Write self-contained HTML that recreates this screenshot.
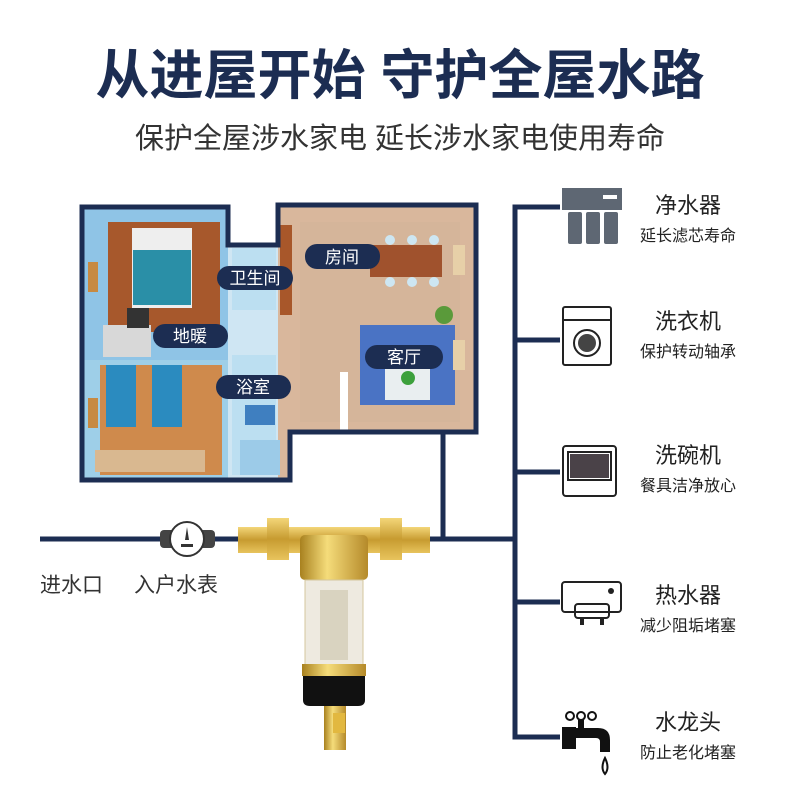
<!DOCTYPE html>
<html><head><meta charset="utf-8"><style>
body{margin:0;width:800px;height:800px;background:#fff;overflow:hidden;font-family:"Liberation Sans","Noto Sans CJK SC",sans-serif}
</style></head><body>
<svg width="800" height="800" viewBox="0 0 800 800" xmlns="http://www.w3.org/2000/svg" font-family="'Liberation Sans','Noto Sans CJK SC',sans-serif">
<text x="400" y="94" text-anchor="middle" font-size="54" font-weight="bold" fill="#1c2d52">从进屋开始 守护全屋水路</text>
<text x="400" y="148" text-anchor="middle" font-size="29" fill="#333">保护全屋涉水家电 延长涉水家电使用寿命</text>

<g>
<rect x="82" y="207" width="146" height="273" fill="#8fc4e6"/>
<rect x="228" y="245" width="50" height="235" fill="#cfe6f3"/>
<rect x="278" y="205" width="198" height="228" fill="#d9b79c"/>
<rect x="278" y="433" width="12" height="47" fill="#d9b79c"/>
<rect x="108" y="222" width="112" height="110" fill="#a7582c"/>
<rect x="132" y="228" width="60" height="80" fill="#eee"/>
<rect x="133" y="250" width="58" height="55" fill="#2a8fa7"/>
<rect x="103" y="325" width="48" height="32" fill="#d8d8d8"/>
<rect x="127" y="308" width="22" height="20" fill="#333"/>
<rect x="82" y="360" width="146" height="120" fill="#9ecfe8"/>
<rect x="100" y="365" width="122" height="110" fill="#cf8a4c"/>
<rect x="106" y="365" width="30" height="62" fill="#2b8bbf"/>
<rect x="152" y="365" width="30" height="62" fill="#2b8bbf"/>
<rect x="95" y="450" width="110" height="22" fill="#d9b890"/>
<rect x="232" y="248" width="44" height="62" fill="#bcdff1"/>
<rect x="232" y="355" width="44" height="120" fill="#bcdff1"/>
<rect x="245" y="405" width="30" height="20" fill="#3f7fc0"/>
<rect x="240" y="440" width="40" height="35" fill="#9ccbe8"/>
<rect x="300" y="222" width="160" height="200" fill="#d5b59a"/>
<rect x="280" y="225" width="12" height="90" fill="#a8572a"/>
<rect x="370" y="245" width="72" height="32" fill="#a0522d"/>
<g fill="#cde6f2"><circle cx="390" cy="240" r="5"/><circle cx="412" cy="240" r="5"/><circle cx="434" cy="240" r="5"/><circle cx="390" cy="282" r="5"/><circle cx="412" cy="282" r="5"/><circle cx="434" cy="282" r="5"/></g>
<circle cx="444" cy="315" r="9" fill="#5a9a3a"/>
<rect x="360" y="325" width="95" height="80" fill="#4a73c4"/>
<rect x="385" y="350" width="45" height="50" fill="#e9eef0"/>
<circle cx="408" cy="378" r="7" fill="#3ca03c"/>
<rect x="340" y="372" width="8" height="58" fill="#fff"/>
<rect x="453" y="245" width="12" height="30" fill="#e7d0a8"/>
<rect x="453" y="340" width="12" height="30" fill="#e7d0a8"/>
<rect x="88" y="262" width="10" height="30" fill="#c78a42"/>
<rect x="88" y="398" width="10" height="30" fill="#c78a42"/>
</g>
<path d="M82 207 H228 V245 H278 V205 H476 V432 H290 V480 H82 Z" fill="none" stroke="#1c2d52" stroke-width="5"/>

<g font-size="17" fill="#fff" text-anchor="middle">
<rect x="217" y="266" width="76" height="24" rx="12" fill="#1c2d52"/><text x="255" y="284">卫生间</text>
<rect x="305" y="244" width="75" height="25" rx="12" fill="#1c2d52"/><text x="342" y="263">房间</text>
<rect x="153" y="324" width="75" height="24" rx="12" fill="#1c2d52"/><text x="190" y="342">地暖</text>
<rect x="365" y="345" width="78" height="24" rx="12" fill="#1c2d52"/><text x="404" y="363">客厅</text>
<rect x="216" y="375" width="75" height="24" rx="12" fill="#1c2d52"/><text x="253" y="393">浴室</text>
</g>

<g stroke="#1c2d52" stroke-width="5" fill="none">
<line x1="40" y1="539" x2="240" y2="539"/>
<line x1="428" y1="539" x2="517" y2="539"/>
<line x1="443" y1="432" x2="443" y2="541"/>
<polyline points="560,207 515,207 515,737 560,737"/>
<line x1="515" y1="340" x2="560" y2="340"/>
<line x1="515" y1="472" x2="560" y2="472"/>
<line x1="515" y1="602" x2="560" y2="602"/>
</g>

<rect x="160" y="530" width="55" height="18" rx="4" fill="#444"/>
<circle cx="187" cy="539" r="17" fill="#fff" stroke="#333" stroke-width="2"/>
<path d="M187 527 L185 540 H189 Z" fill="#333"/>
<rect x="181" y="544" width="12" height="3" fill="#333"/>
<text x="40" y="592" font-size="21" fill="#333">进水口</text>
<text x="134" y="592" font-size="21" fill="#333">入户水表</text>

<defs><linearGradient id="g" x1="0" x2="1"><stop offset="0" stop-color="#a8811f"/><stop offset=".4" stop-color="#f5dc7a"/><stop offset="1" stop-color="#b58a2a"/></linearGradient>
<linearGradient id="gv" y1="0" y2="1" x1="0" x2="0"><stop offset="0" stop-color="#f3d679"/><stop offset=".5" stop-color="#c79b30"/><stop offset="1" stop-color="#e8c45d"/></linearGradient></defs>
<rect x="238" y="527" width="192" height="26" fill="url(#gv)"/>
<rect x="267" y="518" width="22" height="42" fill="url(#gv)"/>
<rect x="380" y="518" width="22" height="42" fill="url(#gv)"/>
<rect x="300" y="535" width="68" height="45" rx="5" fill="url(#g)"/>
<rect x="305" y="580" width="58" height="95" fill="#eeeae0" stroke="#d4c79e"/>
<rect x="320" y="590" width="28" height="70" fill="#d9d3c0"/>
<rect x="302" y="664" width="64" height="12" fill="url(#g)"/>
<path d="M303 676 H365 V700 Q365 706 358 706 H310 Q303 706 303 700Z" fill="#111"/>
<rect x="324" y="706" width="22" height="44" fill="url(#g)"/>
<rect x="333" y="713" width="12" height="20" fill="#e2b840"/>

<g fill="#5e6773">
<rect x="562" y="188" width="60" height="22"/>
<rect x="568" y="212" width="14" height="32" rx="2"/>
<rect x="586" y="212" width="14" height="32" rx="2"/>
<rect x="604" y="212" width="14" height="32" rx="2"/>
</g>
<rect x="603" y="195" width="14" height="4" fill="#fff"/>
<g fill="none" stroke="#222" stroke-width="2">
<rect x="563" y="307" width="48" height="58" rx="2"/>
<line x1="563" y1="320" x2="611" y2="320"/>
<circle cx="587" cy="343" r="13"/>
<rect x="563" y="446" width="53" height="50" rx="3"/>
<rect x="568" y="452" width="43" height="28"/>
<rect x="562" y="582" width="59" height="30" rx="3"/>
<rect x="575" y="604" width="34" height="14" rx="3"/>
</g>
<circle cx="587" cy="343" r="9" fill="#444"/>
<rect x="570" y="454" width="39" height="24" fill="#4a4248"/>
<circle cx="611" cy="591" r="3" fill="#222"/>
<rect x="580" y="617" width="4" height="8" fill="#222"/><rect x="600" y="617" width="4" height="8" fill="#222"/>
<g fill="#111">
<circle cx="570" cy="716" r="4" fill="none" stroke="#111" stroke-width="2"/><circle cx="581" cy="716" r="4" fill="none" stroke="#111" stroke-width="2"/><circle cx="592" cy="716" r="4" fill="none" stroke="#111" stroke-width="2"/>
<rect x="578" y="720" width="6" height="8"/>
<rect x="562" y="727" width="14" height="22"/>
<path d="M576 728 H598 Q610 728 610 740 V752 H600 V742 Q600 738 596 738 H576Z"/>
<path d="M605 758 Q600 768 605 774 Q610 768 605 758Z" fill="none" stroke="#111" stroke-width="2"/>
</g>

<g text-anchor="middle" fill="#222">
<text x="688" y="213" font-size="22">净水器</text><text x="688" y="241" font-size="16">延长滤芯寿命</text>
<text x="688" y="329" font-size="22">洗衣机</text><text x="688" y="357" font-size="16">保护转动轴承</text>
<text x="688" y="463" font-size="22">洗碗机</text><text x="688" y="491" font-size="16">餐具洁净放心</text>
<text x="688" y="603" font-size="22">热水器</text><text x="688" y="631" font-size="16">减少阻垢堵塞</text>
<text x="688" y="730" font-size="22">水龙头</text><text x="688" y="758" font-size="16">防止老化堵塞</text>
</g>
</svg>
</body></html>
